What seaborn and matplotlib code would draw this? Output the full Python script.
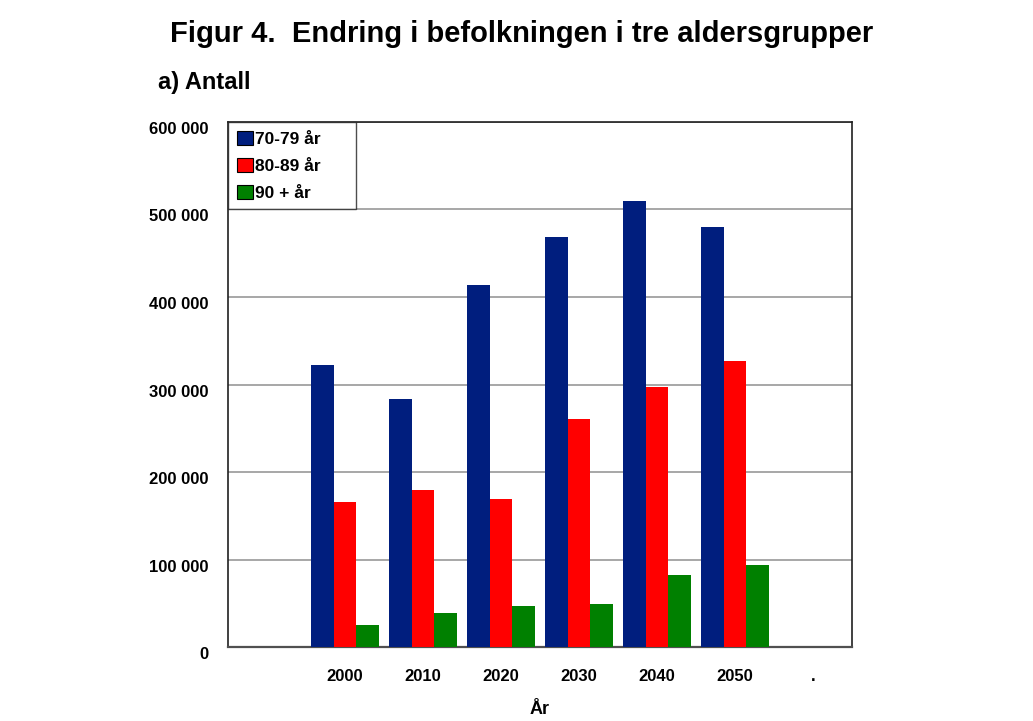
import matplotlib
matplotlib.use("Agg")
import matplotlib.pyplot as plt
import matplotlib.transforms as mtransforms
import seaborn as sns
import pandas as pd

years = ["2000", "2010", "2020", "2030", "2040", "2050"]
groups = ["70-79 år", "80-89 år", "90 + år"]
v7079 = [322000, 283000, 414000, 469000, 510000, 480000]
v8089 = [166000, 179000, 169000, 261000, 297000, 327000]
v90 = [25000, 39000, 47000, 49000, 82000, 94000]
colors = ["#001E7E", "#FF0000", "#008000"]
ytick_vals = [0, 100000, 200000, 300000, 400000, 500000, 600000]
ytick_labels = ["0", "100 000", "200 000", "300 000", "400 000", "500 000", "600 000"]
xtick_labels = years + ["."]

rows = []
for g, vals in zip(groups, [v7079, v8089, v90]):
    for y, v in zip(years, vals):
        rows.append({"År": y, "Gruppe": g, "Antall": v})
df = pd.DataFrame(rows)

sns.set_theme(style="white")
plt.rcParams["font.family"] = ["Liberation Sans", "DejaVu Sans"]
for k in ["text.color", "axes.labelcolor", "xtick.color", "ytick.color"]:
    plt.rcParams[k] = "black"

fig = plt.figure(figsize=(10.33, 7.21), dpi=100)
ax = fig.add_axes([0.2207, 0.1026, 0.6041, 0.7282])

sns.barplot(data=df, x="År", y="Antall", hue="Gruppe", order=years,
            hue_order=groups, palette=colors, width=0.86, saturation=1,
            linewidth=0, ax=ax, zorder=3)

ax.set_xlim(-1.5, 6.5)
ax.set_ylim(0, 600000)
ax.set_xticks(range(len(xtick_labels)))
ax.set_xticklabels(xtick_labels, fontsize=12, fontweight="bold")
ax.set_yticks(ytick_vals)
ax.set_yticklabels(ytick_labels, fontsize=12, fontweight="bold")
ax.tick_params(axis="both", length=0)
ax.tick_params(axis="x", pad=16)
ax.tick_params(axis="y", pad=14)
off = mtransforms.ScaledTranslation(0, -6 / 100, fig.dpi_scale_trans)
for lab in ax.get_yticklabels():
    lab.set_transform(lab.get_transform() + off)
ax.yaxis.grid(True, color="#A0A0A0", linewidth=1.3, zorder=0)
ax.set_axisbelow(True)
for s in ax.spines.values():
    s.set_visible(True)
    s.set_color("#202020")
    s.set_linewidth(1.2)
ax.spines["bottom"].set_color("#505050")
ax.spines["bottom"].set_linewidth(1.6)

ax.set_xlabel("År", fontsize=13, fontweight="bold", labelpad=12)
ax.set_ylabel("")

leg = ax.legend(loc="upper left", bbox_to_anchor=(0.0, 1.0, 0.205, 0.0),
                mode="expand", frameon=True,
                fancybox=False, prop={"size": 12.5, "weight": "bold"},
                handlelength=0.95, handleheight=0.9, handletextpad=0.1,
                borderpad=0.5, labelspacing=0.62, borderaxespad=0)
leg.get_frame().set_edgecolor("#202020")
leg.get_frame().set_linewidth(1.0)
for h in leg.legend_handles:
    h.set_edgecolor("black")
    h.set_linewidth(0.8)

fig.text(0.505, 0.953, "Figur 4.  Endring i befolkningen i tre aldersgrupper",
         ha="center", va="center", fontsize=21, fontweight="bold")
fig.text(0.153, 0.886, "a) Antall", ha="left", va="center", fontsize=17,
         fontweight="bold")

fig.savefig("out.png", dpi=100)
